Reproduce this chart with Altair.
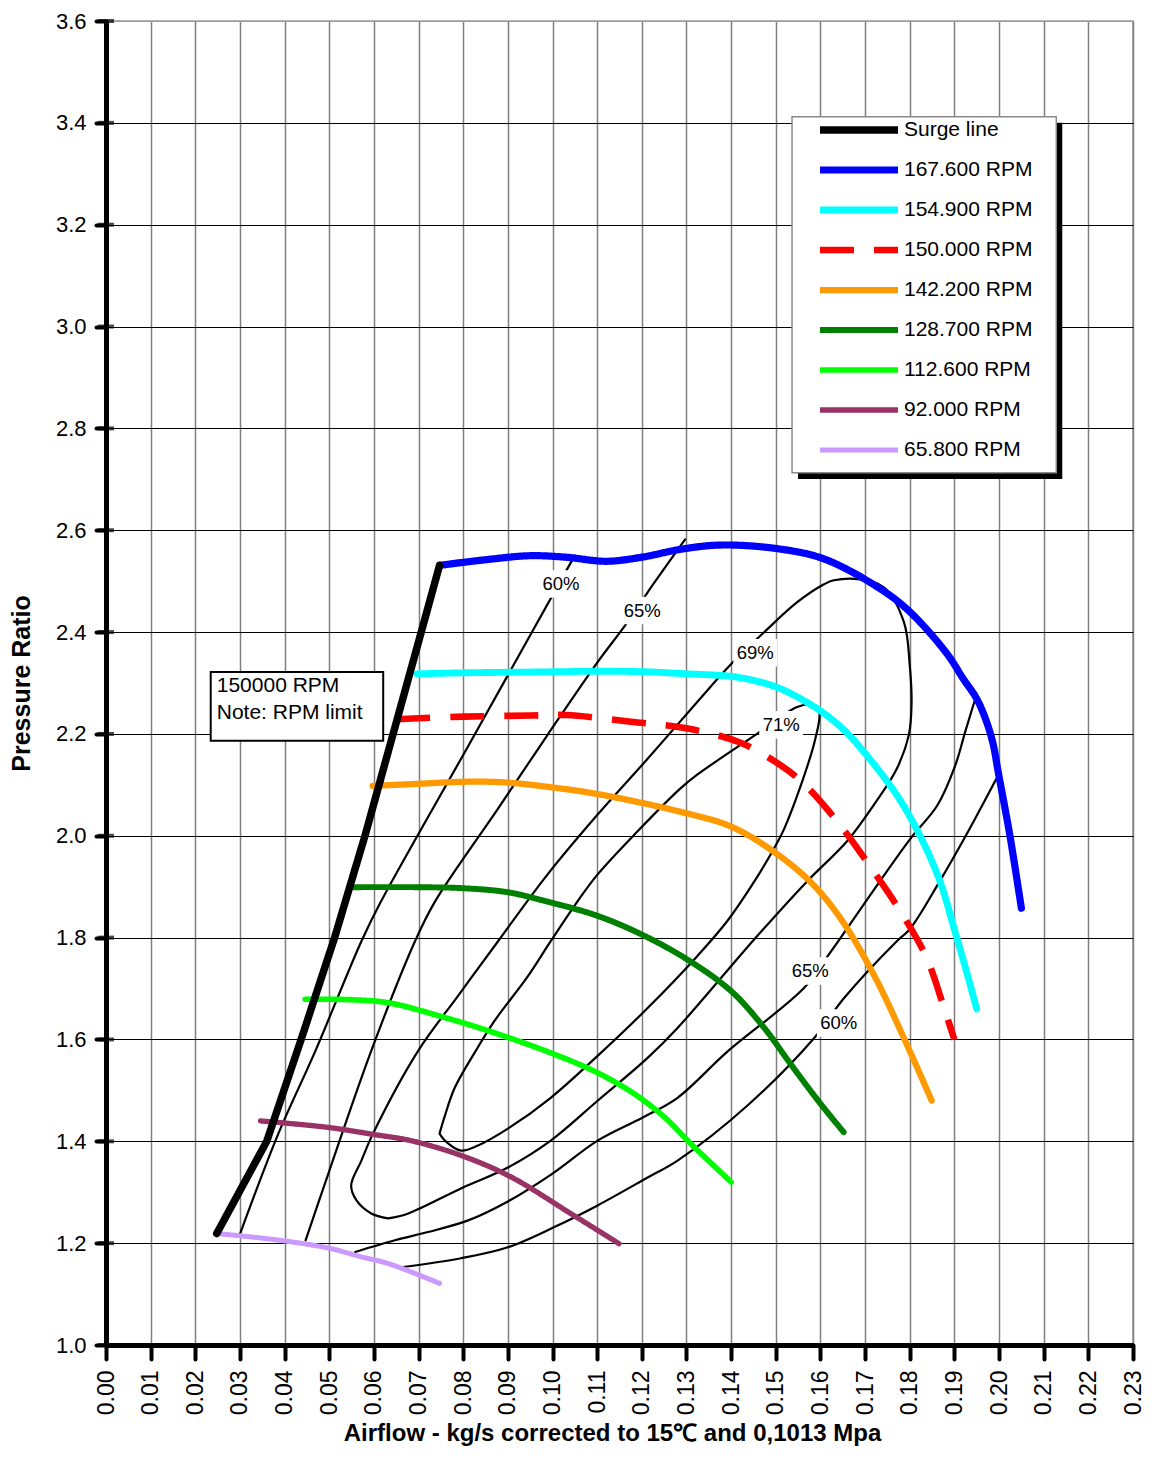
import altair as alt
import pandas as pd

FONT = "Liberation Sans"

# ---------------- axis tick values ----------------
x_ticks = [0.00, 0.01, 0.02, 0.03, 0.04, 0.05, 0.06, 0.07, 0.08, 0.09, 0.10, 0.11,
           0.12, 0.13, 0.14, 0.15, 0.16, 0.17, 0.18, 0.19, 0.20, 0.21, 0.22, 0.23]
y_ticks = [1.0, 1.2, 1.4, 1.6, 1.8, 2.0, 2.2, 2.4, 2.6, 2.8, 3.0, 3.2, 3.4, 3.6]

# ---------------- speed lines (legend order) ----------------
series_names = ["Surge line", "167.600 RPM", "154.900 RPM", "150.000 RPM", "142.200 RPM",
                "128.700 RPM", "112.600 RPM", "92.000 RPM", "65.800 RPM"]
series_colors = ["#000000", "#0000FF", "#00FFFF", "#FF0000", "#FF9900",
                 "#008000", "#00FF00", "#993366", "#CC99FF"]
series_dash = [[1, 0], [1, 0], [1, 0], [34, 20], [1, 0], [1, 0], [1, 0], [1, 0], [1, 0]]
series_width = [7.5, 5, 5, 5, 5, 5, 5, 5, 5]

surge_x = [0.0248, 0.0360, 0.0437, 0.0512, 0.0580, 0.0643, 0.0706, 0.0747]
surge_y = [1.219, 1.400, 1.600, 1.800, 2.000, 2.200, 2.400, 2.531]

rpm167_x = [0.0747, 0.085, 0.095, 0.103, 0.112, 0.120, 0.129, 0.138, 0.151, 0.161,
            0.1734, 0.180, 0.1883, 0.192, 0.195, 0.1972, 0.1987, 0.1998, 0.2024, 0.205]
rpm167_y = [2.531, 2.542, 2.550, 2.547, 2.539, 2.547, 2.563, 2.571, 2.563, 2.543,
            2.485, 2.440, 2.358, 2.308, 2.269, 2.224, 2.179, 2.126, 2.002, 1.858]

rpm154_x = [0.0697, 0.080, 0.090, 0.100, 0.110, 0.121, 0.130, 0.140, 0.146, 0.151,
            0.1592, 0.165, 0.1697, 0.1771, 0.1823, 0.1868, 0.190, 0.1925, 0.195]
rpm154_y = [2.318, 2.320, 2.321, 2.322, 2.323, 2.322, 2.318, 2.313, 2.303, 2.289,
            2.250, 2.210, 2.165, 2.080, 2.000, 1.910, 1.816, 1.740, 1.660]

rpm150_x = [0.065, 0.080, 0.095, 0.103, 0.1175, 0.130, 0.142, 0.151, 0.1562, 0.1644,
            0.1719, 0.1786, 0.1838, 0.1879, 0.190]
rpm150_y = [2.229, 2.234, 2.236, 2.237, 2.224, 2.211, 2.183, 2.139, 2.103, 2.021,
            1.930, 1.842, 1.760, 1.656, 1.600]

rpm142_x = [0.0597, 0.070, 0.080, 0.089, 0.099, 0.110, 0.1287, 0.140, 0.1495, 0.1577,
            0.1644, 0.1719, 0.1793, 0.1849]
rpm142_y = [2.098, 2.102, 2.106, 2.105, 2.096, 2.082, 2.047, 2.018, 1.969, 1.910,
            1.839, 1.728, 1.591, 1.480]

rpm128_x = [0.0546, 0.070, 0.080, 0.090, 0.100, 0.110, 0.120, 0.130, 0.140, 0.1473,
            0.1533, 0.160, 0.1652]
rpm128_y = [1.899, 1.899, 1.897, 1.889, 1.868, 1.843, 1.806, 1.758, 1.695, 1.624,
            1.552, 1.474, 1.418]

rpm112_x = [0.0446, 0.055, 0.0632, 0.0759, 0.087, 0.1004, 0.110, 0.118, 0.125, 0.131, 0.140]
rpm112_y = [1.679, 1.678, 1.672, 1.643, 1.613, 1.571, 1.535, 1.495, 1.448, 1.395, 1.320]

rpm92_x = [0.0346, 0.0386, 0.050, 0.0595, 0.0684, 0.0796, 0.0907, 0.1041, 0.1149]
rpm92_y = [1.440, 1.437, 1.427, 1.414, 1.401, 1.372, 1.330, 1.258, 1.199]

rpm65_x = [0.0248, 0.0386, 0.050, 0.0572, 0.0632, 0.0747]
rpm65_y = [1.219, 1.206, 1.190, 1.173, 1.160, 1.121]

# ---------------- efficiency contours ----------------
eff60_left_x = [0.0299, 0.0386, 0.0469, 0.0572, 0.0616, 0.0811, 0.1050]
eff60_left_y = [1.2154, 1.4151, 1.5776, 1.7929, 1.8712, 2.1759, 2.5506]

eff65_left_x = [0.0447, 0.0498, 0.0594, 0.0692, 0.0737, 0.0878, 0.0989, 0.1101, 0.1163, 0.1213, 0.1297]
eff65_left_y = [1.2056, 1.3367, 1.5776, 1.7929, 1.8712, 2.0533, 2.1982, 2.3411, 2.4136, 2.4782, 2.5819]

eff69_x = [0.0632, 0.0594, 0.0561, 0.0549, 0.0572, 0.0598, 0.0699, 0.0788, 0.0878, 0.0989,
           0.1101, 0.1213, 0.1324, 0.1398, 0.1474, 0.1548, 0.1608, 0.1630, 0.1688, 0.1742,
           0.1787, 0.1800, 0.1804, 0.1798, 0.1771, 0.1720, 0.1659, 0.1570, 0.1452, 0.1280,
           0.1213, 0.1101, 0.0996, 0.0900, 0.0795, 0.0677, 0.0632]
eff69_y = [1.2486, 1.2584, 1.2839, 1.3133, 1.3622, 1.4151, 1.5776, 1.6852, 1.7929, 1.9241,
           2.0416, 2.1512, 2.2628, 2.3352, 2.3998, 2.4586, 2.4938, 2.5017, 2.5036, 2.4880,
           2.4194, 2.3352, 2.2569, 2.1982, 2.1316, 2.0611, 1.9887, 1.9104, 1.7968, 1.6226,
           1.5639, 1.4797, 1.4014, 1.3485, 1.3074, 1.2584, 1.2486]

eff71_x = [0.0747, 0.0759, 0.0781, 0.0828, 0.0870, 0.0945, 0.0996, 0.1056, 0.1101, 0.1190,
           0.1286, 0.1324, 0.1458, 0.1548, 0.1581, 0.1597, 0.1588, 0.1559, 0.1519, 0.1496,
           0.1452, 0.1391, 0.1324, 0.1213, 0.1101, 0.0996, 0.0900, 0.0833, 0.0795, 0.0759, 0.0747]
eff71_y = [1.4151, 1.4503, 1.5051, 1.5776, 1.6363, 1.7244, 1.7929, 1.8712, 1.9241, 2.0083,
           2.0925, 2.1199, 2.2002, 2.2530, 2.2569, 2.2432, 2.1884, 2.1062, 2.0141, 1.9750,
           1.9104, 1.8321, 1.7636, 1.6617, 1.5678, 1.4855, 1.4248, 1.3916, 1.3818, 1.4014, 1.4151]

eff65_right_x = [0.0558, 0.0647, 0.0721, 0.0811, 0.0900, 0.1000, 0.1101, 0.1201, 0.1280,
                 0.1391, 0.1563, 0.1621, 0.1733, 0.1802, 0.1862, 0.1902, 0.1924, 0.1950]
eff65_right_y = [1.1827, 1.2056, 1.2218, 1.2447, 1.2819, 1.3367, 1.4014, 1.4464, 1.4855,
                 1.5756, 1.7009, 1.7694, 1.9104, 1.9950, 2.0600, 2.1383, 2.2035, 2.2784]

eff60_right_x = [0.0661, 0.0795, 0.0900, 0.1004, 0.1101, 0.1213, 0.1280, 0.1436, 0.1586,
                 0.1653, 0.1771, 0.1800, 0.1867, 0.1927, 0.1994]
eff60_right_y = [1.1527, 1.1703, 1.1919, 1.2316, 1.2741, 1.3289, 1.3622, 1.4699, 1.6030,
                 1.6813, 1.7929, 1.8164, 1.9104, 2.0024, 2.1120]

eff_label_text = ["60%", "65%", "69%", "71%", "65%", "60%"]
eff_label_x = [0.1019, 0.1201, 0.1454, 0.1512, 0.1577, 0.1641]
eff_label_y = [2.4944, 2.4423, 2.3593, 2.2178, 1.7342, 1.6324]

note_lines = ["150000 RPM", "Note: RPM limit"]
note_line_y = [2.2941, 2.2412]

# ---------------- build tables ----------------
speed_sets = [surge_x, rpm167_x, rpm154_x, rpm150_x, rpm142_x, rpm128_x, rpm112_x, rpm92_x, rpm65_x]
speed_sets_y = [surge_y, rpm167_y, rpm154_y, rpm150_y, rpm142_y, rpm128_y, rpm112_y, rpm92_y, rpm65_y]
rows = []
for name, xs, ys in zip(series_names, speed_sets, speed_sets_y):
    for i, (a, b) in enumerate(zip(xs, ys)):
        rows.append({"series": name, "x": a, "y": b, "order": i})
speed_df = pd.DataFrame(rows)

contours = [("60L", eff60_left_x, eff60_left_y), ("65L", eff65_left_x, eff65_left_y),
            ("69", eff69_x, eff69_y), ("71", eff71_x, eff71_y),
            ("65R", eff65_right_x, eff65_right_y), ("60R", eff60_right_x, eff60_right_y)]
crow = []
for seg, xs, ys in contours:
    for i, (a, b) in enumerate(zip(xs, ys)):
        crow.append({"seg": seg, "x": a, "y": b, "order": i})
contour_df = pd.DataFrame(crow)

# label boxes: half sizes in data units (about 22 px x 14 px)
HALF_W = 0.0049
HALF_H = 0.027
lab_df = pd.DataFrame({"text": eff_label_text, "x": eff_label_x, "y": eff_label_y})
lab_df["x1"] = lab_df["x"] - HALF_W
lab_df["x2"] = lab_df["x"] + HALF_W
lab_df["y1"] = lab_df["y"] - HALF_H
lab_df["y2"] = lab_df["y"] + HALF_H

note_box = pd.DataFrame({"x": [0.02345], "x2": [0.06208], "y": [2.18646], "y2": [2.32152]})
note_text = pd.DataFrame({"x": [0.0248, 0.0248], "y": note_line_y, "text": note_lines})
legend_box = pd.DataFrame({"x": [0.15364], "x2": [0.21282], "y": [2.71308], "y2": [3.41203]})
legend_shadow = pd.DataFrame({"x": [0.15498], "x2": [0.21416], "y": [2.70038], "y2": [3.40028]})
ytick_df = pd.DataFrame({"y": y_ticks, "x": [0.0] * len(y_ticks)})

# ---------------- encodings ----------------
x_scale = alt.Scale(domain=[0, 0.23], nice=False, zero=False)
y_scale = alt.Scale(domain=[1.0, 3.6], nice=False, zero=False)

x_axis = alt.Axis(values=x_ticks, format=".2f", labelAngle=270, labelFont=FONT, labelFontSize=23,
                  labelColor="black", labelPadding=11, tickSize=14, tickWidth=4, tickColor="black",
                  tickCap="round", domainColor="black", domainWidth=5, grid=True,
                  gridColor="#7f7f7f", gridWidth=1.5, title="Airflow - kg/s corrected to 15℃ and 0,1013 Mpa",
                  titleFont=FONT, titleFontSize=24, titleFontWeight="bold", titleColor="black",
                  titlePadding=7, titleX=506)
y_axis = alt.Axis(values=y_ticks, format=".1f", labelFont=FONT, labelFontSize=22, labelColor="black",
                  labelPadding=10, tickSize=10, tickWidth=4, tickColor="black", tickCap="round",
                  domainColor="black", domainWidth=5, grid=True,
                  gridColor={"condition": {"test": "datum.value > 3.59", "value": "#9a9a9a"}, "value": "black"},
                  gridWidth=1, title="Pressure Ratio", titleFont=FONT, titleFontSize=25,
                  titleFontWeight="bold", titleColor="black", titlePadding=21)

X = alt.X("x:Q", scale=x_scale, axis=x_axis)
Y = alt.Y("y:Q", scale=y_scale, axis=y_axis)

legend = alt.Legend(orient="none", legendX=710, legendY=98, title=None, symbolType="stroke",
                    symbolSize=6084, labelFont=FONT, labelFontSize=21, labelColor="black",
                    clipHeight=22, rowPadding=18, labelOffset=2, padding=0, symbolOffset=0,
                    labelLimit=300)
color_enc = alt.Color("series:N", scale=alt.Scale(domain=series_names, range=series_colors), legend=legend)
dash_enc = alt.StrokeDash("series:N", scale=alt.Scale(domain=series_names, range=series_dash), legend=legend)
width_enc = alt.StrokeWidth("series:N", scale=alt.Scale(domain=series_names, range=series_width), legend=legend)

# ---------------- layers ----------------
shadow = alt.Chart(legend_shadow).mark_rect(color="black").encode(x=X, x2="x2", y=Y, y2="y2")
lbox = alt.Chart(legend_box).mark_rect(fill="white", stroke="#8a8a8a", strokeWidth=1.5).encode(
    x=X, x2="x2", y=Y, y2="y2")
nbox = alt.Chart(note_box).mark_rect(fill="white", stroke="black", strokeWidth=2).encode(
    x=X, x2="x2", y=Y, y2="y2")
ntext = alt.Chart(note_text).mark_text(align="left", baseline="middle", font=FONT, fontSize=21,
                                       color="black").encode(x=X, y=Y, text="text:N")

contour_layer = alt.Chart(contour_df).mark_line(color="black", strokeWidth=2.2, interpolate="catmull-rom",
                                                 strokeCap="round", strokeJoin="round").encode(
    x=X, y=Y, detail="seg:N", order="order:Q")

lab_boxes = alt.Chart(lab_df).mark_rect(fill="white").encode(
    x=alt.X("x1:Q", scale=x_scale, axis=x_axis), x2="x2",
    y=alt.Y("y1:Q", scale=y_scale, axis=y_axis), y2="y2")
lab_text = alt.Chart(lab_df).mark_text(font=FONT, fontSize=18.5, color="black", align="center",
                                       baseline="middle").encode(x=X, y=Y, text="text:N")

base_speed = alt.Chart(speed_df).encode(x=X, y=Y, color=color_enc, strokeDash=dash_enc,
                                        strokeWidth=width_enc, order="order:Q")
surge_layer = base_speed.transform_filter(alt.datum.series == "Surge line").mark_line(
    interpolate="linear", strokeCap="round", strokeJoin="round")
solid_layer = base_speed.transform_filter(
    (alt.datum.series != "Surge line") & (alt.datum.series != "150.000 RPM")).mark_line(
    interpolate="catmull-rom", strokeCap="round", strokeJoin="round")
dash_layer = base_speed.transform_filter(alt.datum.series == "150.000 RPM").mark_line(
    interpolate="catmull-rom", strokeCap="butt")

yticks_in = alt.Chart(ytick_df).mark_tick(orient="horizontal", size=16, thickness=4, color="black").encode(
    x=X, y=Y)

# total svg size = (98 + 1027 + 11) x (13 + 1324 + 105): fits the page body without being shrunk
chart = alt.layer(
    shadow, lbox, nbox, ntext, contour_layer, lab_boxes, lab_text,
    solid_layer, dash_layer, surge_layer, yticks_in
).properties(
    width=1027, height=1324,
    autosize=alt.AutoSizeParams(type="none"),
    padding={"left": 98, "top": 13, "right": 11, "bottom": 105},
    background="white",
).configure_view(stroke="#9a9a9a", strokeWidth=1.5)

chart.save("out.html", embed_options={"renderer": "svg", "actions": False})
